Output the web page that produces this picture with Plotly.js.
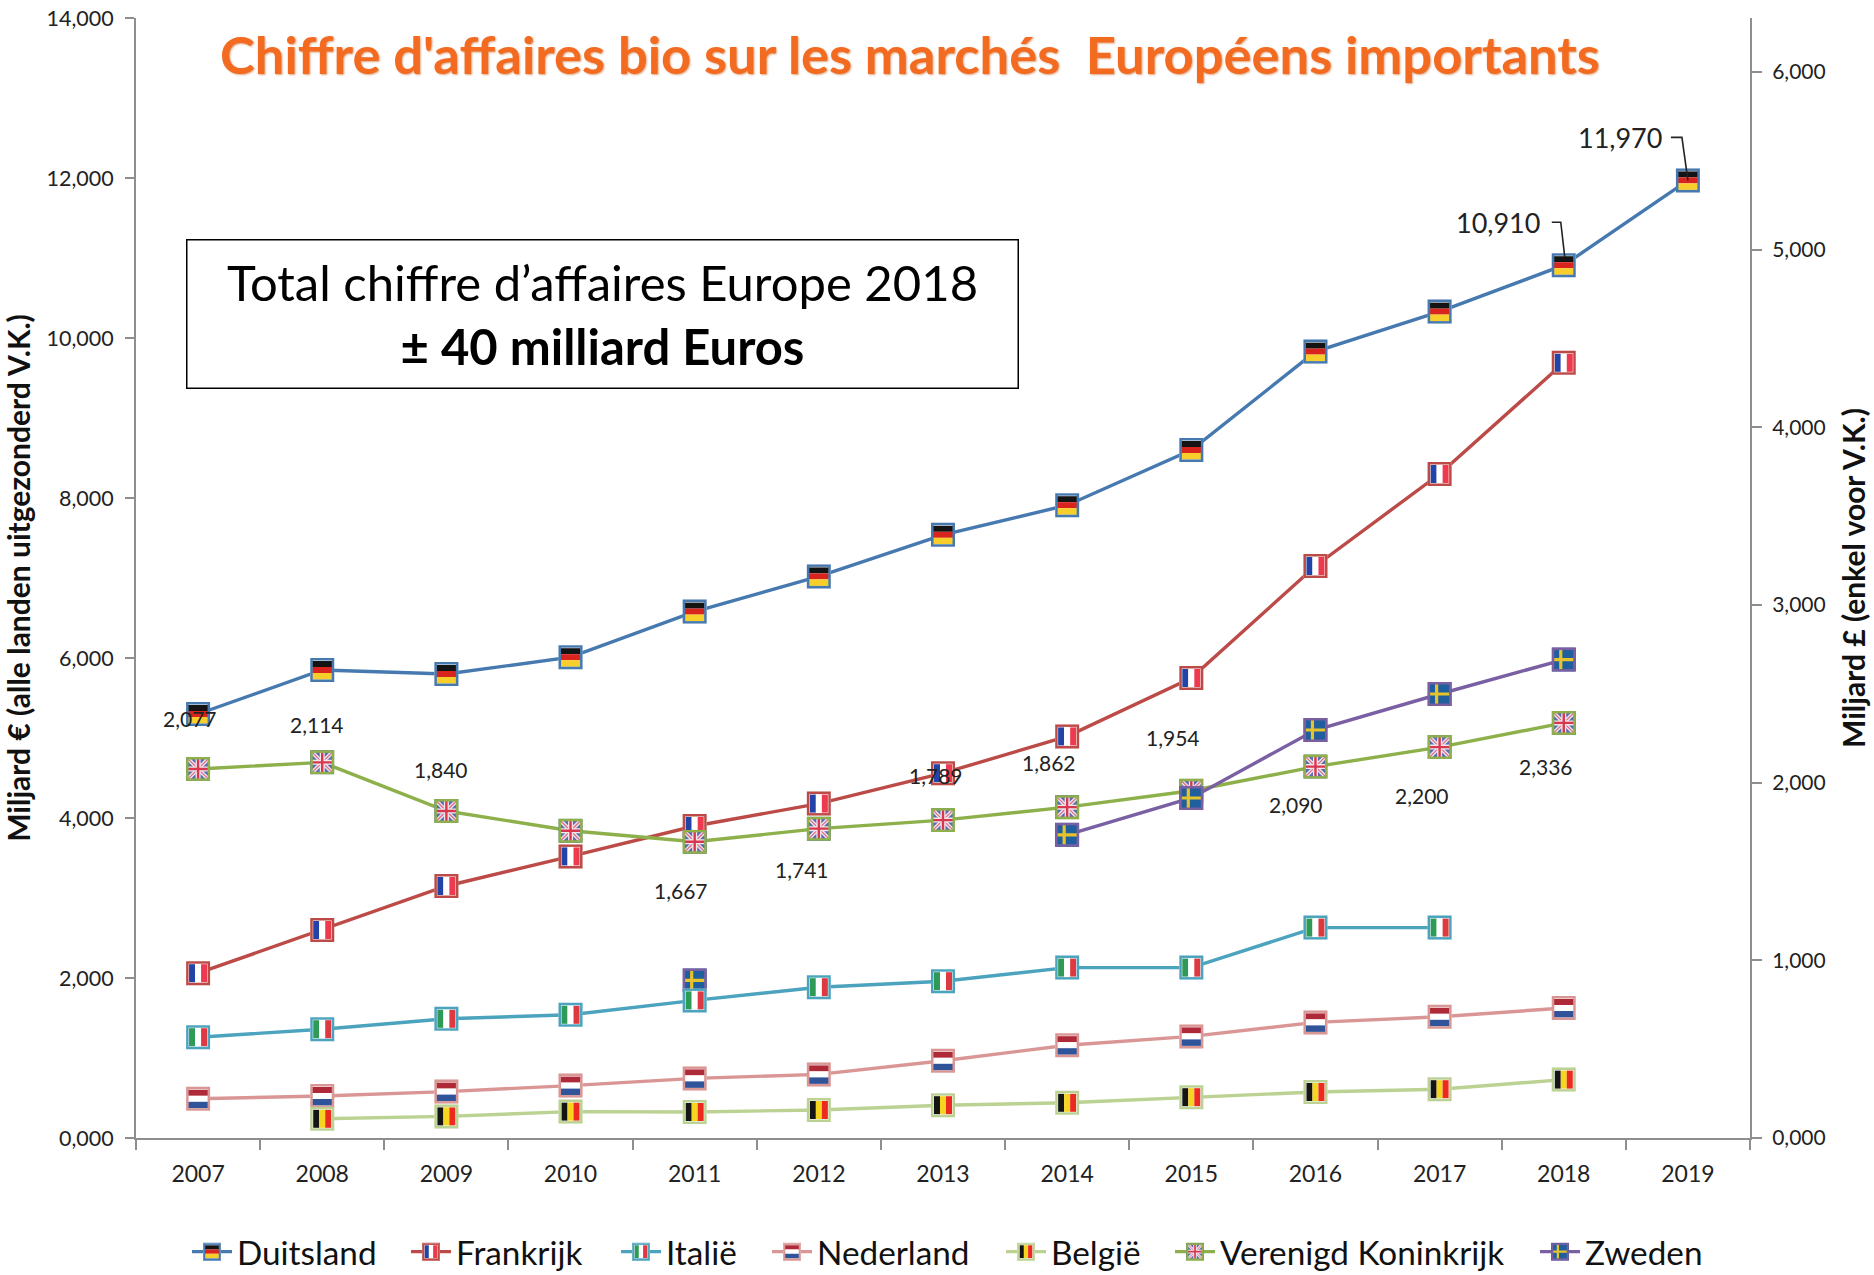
<!DOCTYPE html>
<html><head><meta charset="utf-8">
<script src="https://cdn.plot.ly/plotly-3.0.1.min.js"></script>
<style>html,body{margin:0;padding:0;background:#fff}#c{width:1874px;height:1275px}</style>
</head><body><div id="c"></div>
<script>
const years = ['2007','2008','2009','2010','2011','2012','2013','2014','2015','2016','2017','2018','2019'];
const duitsland = [5300,5850,5800,6010,6580,7020,7540,7910,8600,9830,10330,10910,11970];
const frankrijk = [2060,2600,3150,3520,3900,4180,4560,5020,5750,7150,8300,9690,null];
const italie = [1260,1360,1490,1540,1720,1885,1960,2130,2130,2630,2630,null,null];
const nederland = [490,525,580,655,745,795,965,1160,1270,1445,1515,1625,null];
const belgie = [null,240,270,330,325,350,410,440,510,575,610,730,null];
const vk = [2077,2114,1840,1729,1667,1741,1789,1862,1954,2090,2200,2336,null];
const zweden = [null,null,null,null,1970,null,null,3790,4250,5100,5550,5980,null];
const vkLabels = ['2,077','2,114','1,840',null,'1,667','1,741','1,789','1,862','1,954','2,090','2,200','2,336',null];
const leftTicks = [0,2000,4000,6000,8000,10000,12000,14000];
const leftTickText = ['0,000','2,000','4,000','6,000','8,000','10,000','12,000','14,000'];
const rightTicks = [0,1000,2000,3000,4000,5000,6000];
const rightTickText = ['0,000','1,000','2,000','3,000','4,000','5,000','6,000'];

// label offsets for the VK values (px, relative to the point)
const vkDx = [-8,-5,-5,0,-14,-17,-7,-18,-18,-19,-18,-18,0];
const vkDy = [50,38,42,0,-49,-41,45,45,53,-38,-48,-44,0];
// left edge of each legend entry (px)
const legendLeft = [187,406,616,767,1001,1170,1535];

const W=1874,H=1275,mL=136,mR=124,mT=18,mB=137;
const pw=W-mL-mR, ph=H-mT-mB;
const yMaxL=14000,yMaxR=6303;
const FONT='Lato, "Open Sans", sans-serif';

function svg(inner,stroke){
  const s='<svg xmlns="http://www.w3.org/2000/svg" width="48" height="48" viewBox="0 0 24 24">'+inner+
   '<rect x="1.25" y="1.25" width="21.5" height="21.5" fill="none" stroke="'+stroke+'" stroke-width="2.5"/></svg>';
  return 'data:image/svg+xml;base64,'+btoa(s);
}
const hb=(a,b,c)=>'<rect width="24" height="24" fill="#fff"/><rect x="2" y="3" width="20" height="6" fill="'+a+'"/><rect x="2" y="9" width="20" height="6" fill="'+b+'"/><rect x="2" y="15" width="20" height="6.5" fill="'+c+'"/>';
const vb=(a,b,c)=>'<rect width="24" height="24" fill="#fff"/><rect x="3" y="3" width="6" height="18" fill="'+a+'"/><rect x="9" y="3" width="6" height="18" fill="'+b+'"/><rect x="15" y="3" width="6" height="18" fill="'+c+'"/>';
const ukF='<rect width="24" height="24" fill="#5a6bb0"/><path d="M2 2L22 22M22 2L2 22" stroke="#e8e4ee" stroke-width="4"/><path d="M2 2L22 22M22 2L2 22" stroke="#e06a80" stroke-width="1.2"/><path d="M12 2V22M2 12H22" stroke="#f3e6ea" stroke-width="5"/><path d="M12 2V22M2 12H22" stroke="#d8384f" stroke-width="2.4"/>';
const seF='<rect width="24" height="24" fill="#1f5f9e"/><path d="M9 2V22M2 12H22" stroke="#e6c32b" stroke-width="3.2"/>';

const series=[
 {name:'Duitsland',y:duitsland,color:'#4679B0',axis:'y',flag:hb('#141414','#d8241c','#f8cf2a')},
 {name:'Frankrijk',y:frankrijk,color:'#BC4A47',axis:'y',flag:vb('#2243a8','#ffffff','#ee3a4e')},
 {name:'Italië',y:italie,color:'#4BA3BE',axis:'y',flag:vb('#2f9a56','#ffffff','#dc3a40')},
 {name:'Nederland',y:nederland,color:'#D99694',axis:'y',flag:hb('#ae2a38','#ffffff','#2f5499')},
 {name:'België',y:belgie,color:'#BBD293',axis:'y',flag:vb('#151515','#f6d520','#ec2a20')},
 {name:'Verenigd Koninkrijk',y:vk,color:'#8DB04B',axis:'y2',flag:ukF},
 {name:'Zweden',y:zweden,color:'#7A5FA3',axis:'y3',flag:seF}
];
const legendId=i=>i===0?'legend':'legend'+(i+1);
const traces=series.map((s,i)=>({
  type:'scatter',mode:'lines+markers',name:s.name,x:years,y:s.y,yaxis:s.axis,legend:legendId(i),
  line:{color:s.color,width:3.4},
  marker:{symbol:'square',size:22,color:'#fff',line:{color:s.color,width:2}},
  hoverinfo:'x+y+name'
}));

const MS=24;
const imgOrder=[0,1,5,6,2,3,4];
const images=[];
imgOrder.forEach(i=>{
  const s=series[i];
  const yUnit=(s.axis==='y2'?yMaxR:yMaxL)/ph;
  s.y.forEach((v,k)=>{
    if(v===null)return;
    images.push({source:svg(s.flag,s.color),xref:'x',yref:s.axis,x:k,y:v,
      sizex:MS/(pw/years.length),sizey:MS*yUnit,sizing:'stretch',xanchor:'center',yanchor:'middle',layer:'above'});
  });
});

const annotations=[];
vkLabels.forEach((t,k)=>{
  if(!t)return;
  annotations.push({text:t,xref:'x',yref:'y2',x:k,y:vk[k],xshift:vkDx[k],yshift:vkDy[k],showarrow:false,
    font:{family:FONT,size:21,color:'#222'}});
});
annotations.push({text:'10,910',xref:'x',yref:'y',x:11,y:duitsland[11],xshift:-22,yshift:43,xanchor:'right',showarrow:false,font:{family:FONT,size:27,color:'#222'}});
annotations.push({text:'11,970',xref:'x',yref:'y',x:12,y:duitsland[12],xshift:-24,yshift:43,xanchor:'right',showarrow:false,font:{family:FONT,size:27,color:'#222'}});
annotations.push({text:'Total chiffre d’affaires Europe 2018<br><b>± 40 milliard Euros</b>',xref:'paper',yref:'paper',
  x:(602-mL)/pw,y:1-(314-mT)/ph,xanchor:'center',yanchor:'middle',width:830,height:147,showarrow:false,bgcolor:'#fff',bordercolor:'#000',borderwidth:1.5,borderpad:0,
  font:{family:FONT,size:49,color:'#000'},align:'center',valign:'middle'});

const shapes=[
 {type:'path',xsizemode:'pixel',ysizemode:'pixel',xanchor:11,yanchor:duitsland[11],xref:'x',yref:'y',path:'M -12 43 L -3 43 L 1 8',line:{color:'#222',width:1.6},layer:'above'},
 {type:'path',xsizemode:'pixel',ysizemode:'pixel',xanchor:12,yanchor:duitsland[12],xref:'x',yref:'y',path:'M -17 43 L -6 43 L 0 0',line:{color:'#222',width:1.6},layer:'above'}
];

const axisCol='#8e8e8e';
const layout={
  width:W,height:H,margin:{l:mL,r:mR,t:mT,b:mB,pad:0,autoexpand:false},paper_bgcolor:'#fff',plot_bgcolor:'#fff',
  font:{family:FONT,color:'#222'},showlegend:true,
  title:{text:"Chiffre d'affaires bio sur les marchés  Européens importants",x:910/W,xanchor:'center',y:1-56/H,yanchor:'middle',
    font:{family:FONT,size:52.5,weight:700,color:'#F26B21',shadow:'1px 1px 2px rgba(200,110,50,0.6)'}},
  xaxis:{type:'category',categoryorder:'array',categoryarray:years,range:[-0.5,12.5],tickson:'boundaries',ticks:'outside',ticklen:10,tickwidth:2,tickcolor:axisCol,
    showline:true,linecolor:axisCol,linewidth:2,showgrid:false,zeroline:false,tickfont:{family:FONT,size:23,color:'#222'},ticklabelstandoff:14},
  yaxis:{range:[0,yMaxL],tickmode:'array',tickvals:leftTicks,ticktext:leftTickText,ticks:'outside',ticklen:9,tickwidth:2,tickcolor:axisCol,showline:true,linecolor:axisCol,linewidth:2,showgrid:false,zeroline:false,
    tickfont:{family:FONT,size:21.5,color:'#222'},ticklabelstandoff:7,
    title:{text:'<b>Miljard € (alle landen uitgezonderd V.K.)</b>',font:{family:FONT,size:30,color:'#111'},standoff:14}},
  yaxis2:{range:[0,yMaxR],overlaying:'y',side:'right',tickmode:'array',tickvals:rightTicks,ticktext:rightTickText,ticks:'outside',ticklen:10,tickwidth:2,tickcolor:axisCol,showline:true,linecolor:axisCol,linewidth:2,showgrid:false,zeroline:false,
    tickfont:{family:FONT,size:21,color:'#222'},ticklabelstandoff:6,
    title:{text:'<b>Miljard £ (enkel voor V.K.)</b>',font:{family:FONT,size:30,color:'#111'},standoff:19}},
  yaxis3:{range:[0,yMaxL],overlaying:'y',visible:false},
  images,annotations,shapes
};
series.forEach((s,i)=>{
  layout[legendId(i)]={x:(legendLeft[i]-mL)/pw,xanchor:'left',y:-(1251-1137)/ph,yanchor:'middle',orientation:'h',
    font:{family:FONT,size:33.3,color:'#111'},itemwidth:40,bgcolor:'rgba(0,0,0,0)'};
});
const gd=document.getElementById('c');
Plotly.newPlot(gd,traces,layout,{displayModeBar:false,responsive:false}).then(()=>{
  const box=gd.getBoundingClientRect();
  const extra=[];
  series.forEach((s,i)=>{
    const g=gd.querySelector('g.'+legendId(i));
    const p=g&&g.querySelector('.legendpoints path.scatterpts, .legendpoints .scatterpts path');
    if(!p)return;
    const r=p.getBoundingClientRect();
    const cx=r.left+r.width/2-box.left, cy=r.top+r.height/2-box.top;
    extra.push({source:svg(s.flag,s.color),xref:'paper',yref:'paper',x:(cx-mL)/pw,y:1-(cy-mT)/ph,
      sizex:17/pw,sizey:17/ph,sizing:'stretch',xanchor:'center',yanchor:'middle',layer:'above'});
  });
  return Plotly.relayout(gd,{images:images.concat(extra)}).then(()=>{
    // the legend layer sits above the image layer: lift the legend flags over the legend symbols
    const imgs=gd.querySelectorAll('.layer-above .imagelayer image');
    const info=gd.querySelector('.infolayer');
    const n=imgs.length;
    for(let i=n-extra.length;i<n;i++) info.appendChild(imgs[i]);
  });
});
</script></body></html>
